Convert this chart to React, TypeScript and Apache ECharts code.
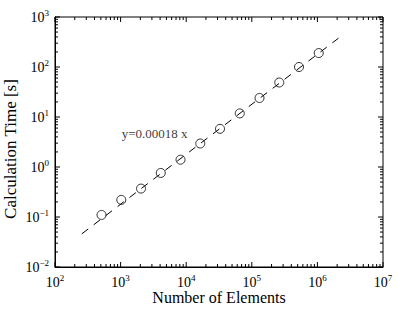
import React, { useEffect, useRef } from "react";
import * as echarts from "echarts";

const elements = [512, 1024, 2048, 4096, 8192, 16384, 32768, 65536, 131072, 262144, 524288, 1048576];
const times = [0.11, 0.22, 0.37, 0.76, 1.4, 2.95, 5.8, 11.8, 24, 49, 100, 190];
const fitX = [256, 2097152];
const fitY = [0.046, 377];
const fitLabel = "y=0.00018 x";
const annotX = 1040;
const annotY = 4.7;
const xMin = 100, xMax = 1e7, yMin = 0.01, yMax = 1000;
const xDecades = [2, 3, 4, 5, 6, 7];
const yDecades = [-2, -1, 0, 1, 2, 3];
const minorMultipliers = [2, 3, 4, 5, 6, 7, 8, 9];

const FONT = "Liberation Serif";

function tickValues(decades: number[]) {
  const out: number[][] = [];
  decades.forEach((d, i) => {
    out.push([Math.pow(10, d), 1]);
    if (i < decades.length - 1) {
      minorMultipliers.forEach((m) => out.push([m * Math.pow(10, d), 0]));
    }
  });
  return out;
}

const supLabel = (v: number) => {
  const e = Math.round(Math.log10(v));
  const s = e < 0 ? "\u2212" + Math.abs(e) : String(e);
  return `{b|10}{s|${s}}`;
};

const richStyle = {
  b: { fontFamily: FONT, fontSize: 14, lineHeight: 14, color: "#000" },
  s: { fontFamily: FONT, fontSize: 9, lineHeight: 9, color: "#000", padding: [0, 0, 9, 0] },
};

export default function App() {
  const ref = useRef<HTMLDivElement>(null);
  useEffect(() => {
    if (!ref.current) return;
    const chart = echarts.init(ref.current, undefined, { renderer: "svg" });
    const xt = tickValues(xDecades).map((t) => [t[0], yMin, t[1]]);
    const yt = tickValues(yDecades).map((t) => [xMin, t[0], t[1]]);
    const lineStyle = { stroke: "#000", lineWidth: 1 };
    chart.setOption({
      animation: false,
      backgroundColor: "#fff",
      textStyle: { fontFamily: FONT },
      grid: {
        left: 55,
        top: 17,
        right: 16,
        bottom: 45,
        outerBoundsMode: "none",
        containLabel: false,
        show: true,
        borderColor: "#000",
        borderWidth: 1,
        backgroundColor: "transparent",
      },
      xAxis: {
        type: "log",
        logBase: 10,
        min: xMin,
        max: xMax,
        name: "Number of Elements",
        nameLocation: "middle",
        nameGap: 24,
        nameMoveOverlap: false,
        nameTextStyle: { fontFamily: FONT, fontSize: 16, lineHeight: 12, color: "#000" },
        axisLine: { show: true, lineStyle: { color: "#000", width: 1 } },
        axisTick: { show: false },
        splitLine: { show: false },
        axisLabel: {
          margin: 8,
          fontFamily: FONT,
          fontSize: 14,
          color: "#000",
          formatter: supLabel,
          rich: richStyle,
        },
      },
      yAxis: {
        type: "log",
        logBase: 10,
        min: yMin,
        max: yMax,
        name: "Calculation Time [s]",
        nameLocation: "middle",
        nameGap: 36,
        nameMoveOverlap: false,
        nameTextStyle: { fontFamily: FONT, fontSize: 17, color: "#000", padding: [0, 14, 0, 0] },
        axisLine: { show: true, lineStyle: { color: "#000", width: 1 } },
        axisTick: { show: false },
        splitLine: { show: false },
        axisLabel: {
          margin: 6,
          fontFamily: FONT,
          fontSize: 14,
          color: "#000",
          formatter: supLabel,
          rich: richStyle,
        },
      },
      series: [
        {
          type: "line",
          data: fitX.map((x, i) => [x, fitY[i]]),
          symbol: "none",
          lineStyle: { color: "#000", width: 1, type: [8, 7] },
          silent: true,
        },
        {
          type: "scatter",
          data: elements.map((x, i) => [x, times[i]]),
          symbol: "circle",
          symbolSize: 9,
          itemStyle: { color: "#fff", borderColor: "#000", borderWidth: 1 },
          silent: true,
        },
        {
          type: "scatter",
          data: [[annotX, annotY]],
          symbolSize: 0,
          silent: true,
          label: {
            show: true,
            position: [0, 0],
            align: "left",
            verticalAlign: "middle",
            formatter: fitLabel,
            fontFamily: FONT,
            fontSize: 13,
            color: "#000",
          },
        },
        {
          type: "custom",
          silent: true,
          data: xt,
          encode: { x: 0, y: 1 },
          renderItem: (params: any, api: any) => {
            const cs = params.coordSys;
            const p = api.coord([api.value(0), api.value(1)]);
            const len = api.value(2) ? 5 : 3;
            const b = cs.y + cs.height;
            return {
              type: "group",
              children: [
                { type: "line", shape: { x1: p[0], y1: b, x2: p[0], y2: b - len }, style: lineStyle },
                { type: "line", shape: { x1: p[0], y1: cs.y, x2: p[0], y2: cs.y + len }, style: lineStyle },
              ],
            };
          },
        },
        {
          type: "custom",
          silent: true,
          data: yt,
          encode: { x: 0, y: 1 },
          renderItem: (params: any, api: any) => {
            const cs = params.coordSys;
            const p = api.coord([api.value(0), api.value(1)]);
            const len = api.value(2) ? 5 : 3;
            const r = cs.x + cs.width;
            return {
              type: "group",
              children: [
                { type: "line", shape: { x1: cs.x, y1: p[1], x2: cs.x + len, y2: p[1] }, style: lineStyle },
                { type: "line", shape: { x1: r, y1: p[1], x2: r - len, y2: p[1] }, style: lineStyle },
              ],
            };
          },
        },
      ],
    });
    return () => chart.dispose();
  }, []);
  return <div ref={ref} style={{ width: 399, height: 312, position: "absolute", left: 0, top: 0 }} />;
}
